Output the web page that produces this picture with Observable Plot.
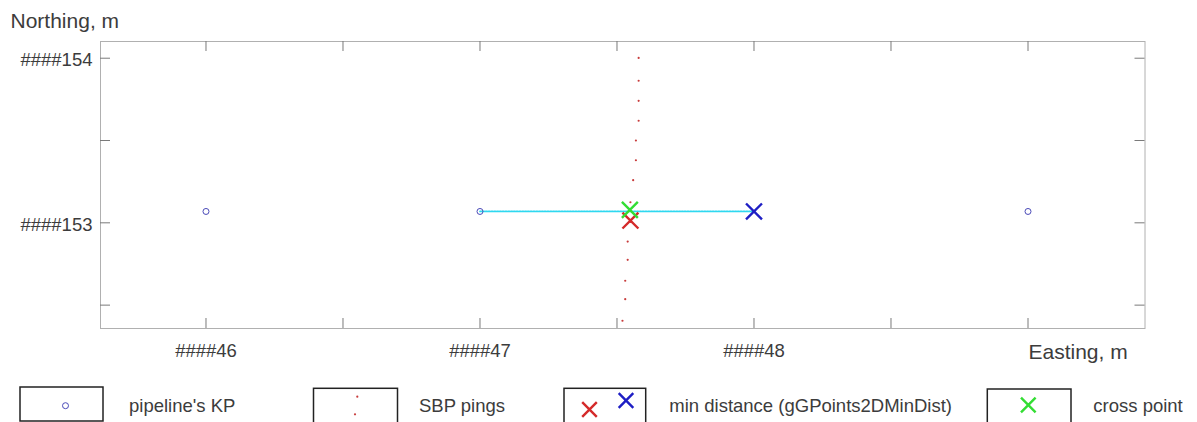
<!DOCTYPE html>
<html><head><meta charset="utf-8">
<script src="https://cdn.jsdelivr.net/npm/d3@7"></script>
<script src="https://cdn.jsdelivr.net/npm/@observablehq/plot@0.6"></script>
<style>
body{margin:0;background:#fff;}
#wrap{width:1197px;}
#wrap svg{display:block;}
</style></head><body><div id="wrap"></div>
<script>
// ---- data ----
const kpEast = [46, 47, 49];
const kpNorth = [153.069, 153.069, 153.069];
const pingEast = [47.579, 47.579, 47.579, 47.579, 47.569, 47.569, 47.559, 47.549, 47.549, 47.539, 47.539, 47.530, 47.530, 47.520];
const pingNorth = [154.002, 153.863, 153.741, 153.620, 153.500, 153.380, 153.259, 153.125, 153.005, 152.886, 152.775, 152.648, 152.536, 152.405];
const linkEast = [47, 48];
const linkNorth = [153.069, 153.069];
const minRedEast = [47.549];
const minRedNorth = [153.014];
const minBlueEast = [48];
const minBlueNorth = [153.069];
const crossEast = [47.547];
const crossNorth = [153.079];
const xTicks = [46, 46.5, 47, 47.5, 48, 48.5, 49];
const xLabelTicks = [46, 47, 48];
const xTickLabels = ["####46", "####47", "####48"];
const yTicks = [152.5, 153, 153.5, 154];
const yLabelTicks = [153, 154];
const yTickLabels = ["####153", "####154"];
const xAxisLabel = "Easting, m";
const yAxisLabel = "Northing, m";
const legendLabels = ["pipeline's KP", "SBP pings", "min distance (gGPoints2DMinDist)", "cross point"];

const zip = (E, N) => E.map((e, i) => ({e, n: N[i]}));
const kp = zip(kpEast, kpNorth);
const pings = zip(pingEast, pingNorth);
const link = zip(linkEast, linkNorth);
const red = zip(minRedEast, minRedNorth);
const blue = zip(minBlueEast, minBlueNorth);
const cross = zip(crossEast, crossNorth);

const FONT = "'Liberation Sans', Arial, sans-serif";
const TXT = "#3c3c3c";
const W = 1197, H = 372;
const mL = 100, mR = 52.5, mT = 41, mB = 44;
const fw = W - mL - mR, fh = H - mT - mB;
const tl = 10;

const plot = Plot.plot({
  width: W, height: H,
  marginLeft: mL, marginRight: mR, marginTop: mT, marginBottom: mB,
  style: {fontFamily: FONT, background: "#fff", color: TXT, overflow: "visible"},
  x: {domain: [45.615, 49.427]},
  y: {domain: [152.358, 154.1015]},
  marks: [
    Plot.frame({stroke: "#b0b0b0", strokeWidth: 1}),
    Plot.ruleX(xTicks, {x: d => d, insetTop: fh - tl, stroke: "#7a7a7a"}),
    Plot.ruleX(xTicks, {x: d => d, insetBottom: fh - tl, stroke: "#7a7a7a"}),
    Plot.ruleY(yTicks, {y: d => d, insetRight: fw - tl, stroke: "#7a7a7a"}),
    Plot.ruleY(yTicks, {y: d => d, insetLeft: fw - tl, stroke: "#7a7a7a"}),
    Plot.axisX(xLabelTicks, {tickSize: 0, tickPadding: 15, fontSize: 18.5, fill: TXT, label: null,
      tickFormat: d => xTickLabels[xLabelTicks.indexOf(d)]}),
    Plot.axisY(yLabelTicks, {tickSize: 0, tickPadding: 8, fontSize: 18.5, fill: TXT, label: null, dy: 2,
      tickFormat: d => yTickLabels[yLabelTicks.indexOf(d)]}),
    Plot.text([yAxisLabel], {text: d => d, frameAnchor: "top-left", textAnchor: "start", lineAnchor: "middle",
      dx: -90, dy: -20, fontSize: 21, fill: TXT}),
    Plot.text([xAxisLabel], {text: d => d, frameAnchor: "bottom-right", textAnchor: "start", lineAnchor: "middle",
      dx: -116.5, dy: 24, fontSize: 21, fill: TXT}),
    Plot.line(link, {x: "e", y: "n", stroke: "#2fd8f0", strokeWidth: 1.7, strokeDasharray: "1.6,1.2"}),
    Plot.dot(kp, {x: "e", y: "n", r: 3, stroke: "#4a4ab8", strokeWidth: 1, fill: "none"}),
    Plot.dot(pings, {x: "e", y: "n", r: 1.1, fill: "#c83c3c", stroke: "none"}),
    Plot.dot(red, {x: "e", y: "n", symbol: "times", r: 7.3, stroke: "#d42a2a", strokeWidth: 2.4}),
    Plot.dot(blue, {x: "e", y: "n", symbol: "times", r: 7.3, stroke: "#1e1ec4", strokeWidth: 2.4}),
    Plot.dot(cross, {x: "e", y: "n", symbol: "times", r: 7.3, stroke: "#33dd33", strokeWidth: 2.4})
  ]
});
document.getElementById("wrap").appendChild(plot);

// ---- legend (below the plot) ----
const lg = d3.create("svg").attr("width", W).attr("height", 50)
  .style("display", "block").style("font-family", FONT);
function box(x, y, w, h) {
  lg.append("rect").attr("x", x).attr("y", y).attr("width", w).attr("height", h)
    .attr("fill", "#fff").attr("stroke", "#222").attr("stroke-width", 1.5);
}
function cross2(cx, cy, s, color) {
  lg.append("path").attr("d", `M${cx-s},${cy-s}L${cx+s},${cy+s}M${cx-s},${cy+s}L${cx+s},${cy-s}`)
    .attr("stroke", color).attr("stroke-width", 2.4).attr("fill", "none");
}
function label(x, y, t) {
  lg.append("text").attr("x", x).attr("y", y).attr("font-size", 18.5).attr("fill", TXT).text(t);
}
box(20, 15, 83, 34);
lg.append("circle").attr("cx", 65.5).attr("cy", 33.7).attr("r", 3).attr("fill", "none").attr("stroke", "#4a4ab8");
label(129, 39.5, legendLabels[0]);
box(313.5, 16.3, 84, 36);
lg.append("circle").attr("cx", 357.3).attr("cy", 24.7).attr("r", 1.1).attr("fill", "#c83c3c");
lg.append("circle").attr("cx", 355).attr("cy", 42.3).attr("r", 1.1).attr("fill", "#c83c3c");
label(419, 39.7, legendLabels[1]);
box(564, 16.3, 81.7, 36);
cross2(589.5, 37.5, 7.3, "#d42a2a");
cross2(626, 28.5, 7.3, "#1e1ec4");
label(669.3, 40.3, legendLabels[2]);
box(987.3, 17, 83.7, 36);
cross2(1028.3, 33, 7.3, "#33dd33");
label(1093.3, 39.5, legendLabels[3]);
document.getElementById("wrap").appendChild(lg.node());
</script>
</body></html>
